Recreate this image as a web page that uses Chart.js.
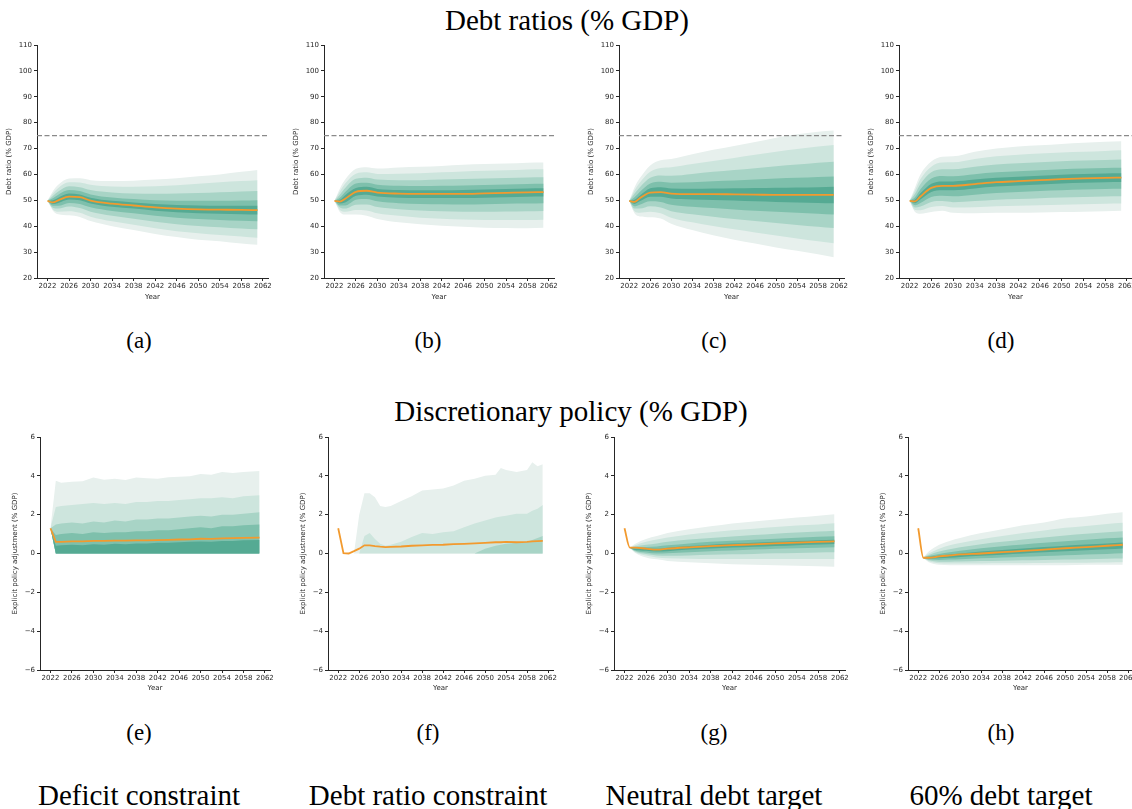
<!DOCTYPE html>
<html>
<head>
<meta charset="utf-8">
<script src="https://cdn.jsdelivr.net/npm/chart.js@4.4.1/dist/chart.umd.min.js"></script>
<style>
  html, body { margin: 0; padding: 0; background: #fff; }
  #page { position: relative; width: 1132px; height: 809px; overflow: hidden;
          font-family: 'Liberation Serif', 'Times New Roman', serif; color: #000; }
  .txt { position: absolute; transform: translate(-50%, -50%); white-space: nowrap; line-height: 1; }
  .head { font-size: 29px; }
  .sub { font-size: 23px; }
  canvas { position: absolute; }
</style>
</head>
<body>
<div id="page">
  <div class="txt head" style="left:567px; top:20px;">Debt ratios (% GDP)</div>
  <div class="txt head" style="left:571px; top:411px;">Discretionary policy (% GDP)</div>

  <div class="txt sub" style="left:139px; top:340px;">(a)</div>
  <div class="txt sub" style="left:428px; top:340px;">(b)</div>
  <div class="txt sub" style="left:714px; top:340px;">(c)</div>
  <div class="txt sub" style="left:1001px; top:340px;">(d)</div>
  <div class="txt sub" style="left:139px; top:732px;">(e)</div>
  <div class="txt sub" style="left:428px; top:732px;">(f)</div>
  <div class="txt sub" style="left:714px; top:732px;">(g)</div>
  <div class="txt sub" style="left:1001px; top:732px;">(h)</div>

  <div class="txt head" style="left:139px; top:795px;">Deficit constraint</div>
  <div class="txt head" style="left:428px; top:795px;">Debt ratio constraint</div>
  <div class="txt head" style="left:714px; top:795px;">Neutral debt target</div>
  <div class="txt head" style="left:1001px; top:795px;">60% debt target</div>
</div>

<script>
// ---- axis ticks ----
const yearTicks = [2022, 2026, 2030, 2034, 2038, 2042, 2046, 2050, 2054, 2058, 2062];
const debtTicks = [20, 30, 40, 50, 60, 70, 80, 90, 100, 110];
const policyTicks = [-6, -4, -2, 0, 2, 4, 6];
const debtLimit = 75;

// ---- debt ratio fans (top row) ----
const debtYears = [2022, 2023, 2024, 2026, 2028, 2030, 2034, 2038, 2042, 2046, 2050, 2054, 2058, 2061];

// (a) deficit constraint
const aMedian = [49.8, 49.2, 50.0, 51.4, 51.2, 49.9, 48.7, 48.0, 47.3, 46.8, 46.5, 46.4, 46.3, 46.2];
const aUpper = [
  [49.8, 53.5, 56.0, 58.4, 58.5, 57.8, 57.5, 57.6, 58.0, 58.5, 59.3, 60.0, 61.0, 61.7],
  [49.8, 52.6, 54.8, 57.0, 56.9, 56.0, 55.3, 55.2, 55.4, 55.8, 56.4, 57.0, 57.5, 57.8],
  [49.8, 51.7, 53.4, 55.4, 55.1, 54.0, 53.0, 52.6, 52.5, 52.6, 52.8, 53.1, 53.4, 53.6],
  [49.8, 50.8, 52.2, 54.0, 53.6, 52.3, 51.1, 50.5, 50.0, 49.8, 49.8, 49.8, 49.9, 50.0],
  [49.8, 50.0, 51.0, 52.6, 52.3, 51.0, 49.8, 49.2, 48.6, 48.2, 48.0, 47.9, 47.9, 47.9]
];
const aLower = [
  [49.8, 46.0, 44.6, 44.2, 43.6, 42.0, 40.0, 38.5, 37.0, 35.8, 34.8, 34.2, 33.3, 32.8],
  [49.8, 46.5, 45.6, 45.8, 45.2, 43.7, 41.9, 40.6, 39.2, 38.1, 37.3, 36.6, 36.0, 35.5],
  [49.8, 47.1, 46.8, 47.6, 47.0, 45.6, 44.0, 42.9, 41.7, 40.8, 40.1, 39.6, 39.1, 38.8],
  [49.8, 47.9, 47.9, 49.0, 48.6, 47.3, 45.9, 45.0, 44.0, 43.3, 42.8, 42.4, 42.1, 41.9],
  [49.8, 48.6, 49.0, 50.3, 50.0, 48.8, 47.5, 46.8, 46.0, 45.4, 45.0, 44.8, 44.6, 44.5]
];

// (b) debt ratio constraint
const bMedian = [49.8, 49.5, 50.6, 53.3, 53.7, 53.0, 52.6, 52.5, 52.5, 52.5, 52.7, 52.9, 53.1, 53.2];
const bUpper = [
  [49.8, 54.5, 58.0, 62.2, 62.8, 62.3, 62.7, 63.0, 63.3, 63.7, 64.0, 64.2, 64.5, 64.6],
  [49.8, 53.4, 56.5, 60.3, 60.8, 60.2, 60.3, 60.5, 60.8, 61.1, 61.4, 61.6, 61.9, 62.0],
  [49.8, 52.2, 54.8, 58.3, 58.7, 58.0, 57.8, 57.8, 58.0, 58.2, 58.4, 58.6, 58.8, 58.9],
  [49.8, 51.0, 53.2, 56.5, 56.8, 56.0, 55.6, 55.5, 55.6, 55.7, 55.9, 56.1, 56.3, 56.4],
  [49.8, 50.2, 52.0, 54.8, 55.2, 54.4, 54.0, 53.9, 53.9, 54.0, 54.2, 54.4, 54.6, 54.7]
];
const bLower = [
  [49.8, 45.5, 44.5, 44.5, 44.0, 42.8, 41.5, 40.8, 40.2, 39.8, 39.4, 39.3, 39.2, 39.4],
  [49.8, 46.3, 45.6, 46.3, 46.1, 45.0, 44.0, 43.3, 42.9, 42.6, 42.4, 42.4, 42.4, 42.5],
  [49.8, 47.2, 46.8, 48.3, 48.4, 47.4, 46.6, 46.1, 45.8, 45.6, 45.6, 45.7, 45.8, 45.9],
  [49.8, 48.0, 48.0, 50.2, 50.5, 49.6, 48.9, 48.6, 48.5, 48.4, 48.5, 48.7, 48.8, 48.9],
  [49.8, 48.8, 49.2, 51.8, 52.2, 51.5, 51.0, 50.9, 50.9, 50.9, 51.0, 51.2, 51.4, 51.5]
];

// (c) neutral debt target
const cMedian = [49.8, 49.4, 50.8, 53.0, 53.2, 52.6, 52.4, 52.4, 52.3, 52.2, 52.1, 52.1, 52.1, 52.1];
const cUpper = [
  [49.8, 55.0, 58.5, 63.5, 65.5, 66.0, 67.8, 69.5, 71.0, 72.5, 74.2, 75.5, 76.5, 77.0],
  [49.8, 53.8, 56.8, 61.0, 62.5, 62.8, 64.0, 65.2, 66.4, 67.6, 68.8, 69.8, 70.8, 71.4],
  [49.8, 52.5, 55.0, 58.7, 59.6, 59.5, 60.2, 61.0, 61.7, 62.4, 63.2, 63.8, 64.5, 64.9],
  [49.8, 51.2, 53.2, 56.5, 57.2, 56.8, 57.0, 57.4, 57.7, 58.0, 58.4, 58.7, 59.0, 59.2],
  [49.8, 50.2, 51.8, 54.7, 55.1, 54.6, 54.5, 54.6, 54.7, 54.8, 54.9, 55.0, 55.1, 55.2]
];
const cLower = [
  [49.8, 45.0, 43.8, 43.5, 43.0, 41.0, 38.5, 36.5, 34.8, 33.3, 31.8, 30.5, 29.2, 28.0],
  [49.8, 45.8, 45.2, 45.6, 45.0, 43.3, 41.5, 40.1, 38.8, 37.6, 36.4, 35.3, 34.2, 33.4],
  [49.8, 46.8, 46.8, 47.7, 47.2, 45.8, 44.6, 43.7, 42.8, 42.0, 41.2, 40.5, 39.8, 39.3],
  [49.8, 47.7, 48.3, 49.6, 49.4, 48.3, 47.5, 47.0, 46.5, 46.0, 45.6, 45.2, 44.8, 44.5],
  [49.8, 48.6, 49.6, 51.4, 51.4, 50.7, 50.3, 50.1, 49.9, 49.6, 49.4, 49.2, 49.0, 48.9]
];

// (d) 60% debt target
const dMedian = [49.8, 49.6, 51.5, 54.8, 55.6, 55.6, 56.3, 57.0, 57.4, 57.8, 58.2, 58.5, 58.7, 58.8];
const dUpper = [
  [49.8, 55.0, 60.0, 65.0, 66.8, 67.0, 68.8, 70.0, 70.8, 71.3, 71.8, 72.2, 72.6, 72.8],
  [49.8, 53.8, 58.2, 63.0, 64.6, 64.7, 66.0, 67.0, 67.6, 68.1, 68.5, 68.8, 69.1, 69.3],
  [49.8, 52.5, 56.3, 60.8, 62.0, 62.0, 63.0, 63.8, 64.3, 64.7, 65.1, 65.4, 65.6, 65.8],
  [49.8, 51.2, 54.3, 58.4, 59.4, 59.3, 60.1, 60.8, 61.2, 61.6, 62.0, 62.3, 62.5, 62.6],
  [49.8, 50.3, 52.7, 56.4, 57.3, 57.3, 58.0, 58.7, 59.1, 59.5, 59.9, 60.2, 60.4, 60.5]
];
const dLower = [
  [49.8, 45.5, 44.8, 45.5, 46.0, 45.2, 45.0, 45.2, 45.2, 45.3, 45.5, 45.6, 45.8, 46.0],
  [49.8, 46.3, 46.2, 47.4, 47.8, 47.2, 47.3, 47.7, 47.9, 48.1, 48.3, 48.5, 48.7, 48.8],
  [49.8, 47.2, 47.6, 49.4, 49.7, 49.3, 49.7, 50.2, 50.5, 50.8, 51.1, 51.3, 51.5, 51.6],
  [49.8, 48.1, 49.0, 51.3, 51.8, 51.6, 52.2, 52.8, 53.2, 53.6, 53.9, 54.2, 54.4, 54.5],
  [49.8, 48.9, 50.3, 53.2, 53.9, 53.9, 54.6, 55.3, 55.7, 56.1, 56.5, 56.8, 57.0, 57.1]
];

// ---- discretionary policy fans (bottom row) ----
// (e) deficit constraint
const eYears = [2022, 2023, 2024, 2026, 2028, 2030, 2032, 2034, 2036, 2038, 2040, 2042, 2044, 2046, 2048, 2050, 2052, 2054, 2056, 2058, 2061];
const eMedian = [1.3, 0.6, 0.6, 0.62, 0.62, 0.65, 0.65, 0.66, 0.66, 0.68, 0.68, 0.69, 0.7, 0.72, 0.73, 0.76, 0.75, 0.78, 0.79, 0.8, 0.82];
const eUpper = [
  [1.3, 3.75, 3.65, 3.7, 3.72, 3.92, 3.8, 3.85, 3.78, 3.92, 3.88, 3.85, 3.93, 3.95, 3.98, 4.1, 4.05, 4.2, 4.15, 4.2, 4.25],
  [1.3, 2.4, 2.45, 2.5, 2.55, 2.6, 2.55, 2.6, 2.55, 2.65, 2.65, 2.7, 2.7, 2.75, 2.8, 2.85, 2.85, 2.9, 2.85, 2.95, 3.0],
  [1.3, 1.5, 1.55, 1.6, 1.55, 1.65, 1.6, 1.7, 1.65, 1.75, 1.75, 1.8, 1.8, 1.85, 1.9, 1.95, 1.9, 2.0, 2.0, 2.05, 2.12],
  [1.3, 0.95, 1.0, 1.05, 1.0, 1.1, 1.05, 1.1, 1.1, 1.15, 1.15, 1.2, 1.2, 1.25, 1.3, 1.35, 1.3, 1.4, 1.4, 1.45, 1.5],
  [1.3, 0.4, 0.42, 0.45, 0.42, 0.48, 0.45, 0.5, 0.48, 0.52, 0.52, 0.55, 0.55, 0.58, 0.6, 0.62, 0.6, 0.65, 0.65, 0.68, 0.7]
];
const eFloor = [1.3, 0, 0, 0, 0, 0, 0, 0, 0, 0, 0, 0, 0, 0, 0, 0, 0, 0, 0, 0, 0];
const eLower = [eFloor, eFloor, eFloor, eFloor, eFloor];

// (f) debt ratio constraint
const fYears = [2022, 2023, 2024, 2025, 2026, 2027, 2028, 2029, 2030, 2031, 2032, 2034, 2036, 2038, 2040, 2042, 2044, 2046, 2048, 2050, 2052, 2053, 2054, 2056, 2058, 2059, 2060, 2061];
const fMedian = [1.3, 0.02, 0.0, 0.12, 0.25, 0.42, 0.42, 0.38, 0.35, 0.33, 0.34, 0.36, 0.4, 0.42, 0.44, 0.45, 0.48, 0.5, 0.52, 0.55, 0.58, 0.58, 0.6, 0.58, 0.6, 0.62, 0.64, 0.65];
const fUpper = [
  [0, 0, 0, 0, 2.0, 3.1, 3.1, 2.9, 2.45, 2.4, 2.45, 2.7, 2.95, 3.25, 3.3, 3.35, 3.5, 3.75, 3.85, 4.0, 4.05, 4.4, 4.3, 4.2, 4.3, 4.7, 4.5, 4.6],
  [0, 0, 0, 0, 0, 0.9, 1.05, 0.75, 0.5, 0.4, 0.45, 0.6, 0.85, 1.05, 1.0, 1.1, 1.15, 1.35, 1.55, 1.7, 1.85, 1.9, 1.95, 2.05, 2.05, 2.2, 2.3, 2.5],
  [0, 0, 0, 0, 0, 0, 0, 0, 0, 0, 0, 0, 0, 0, 0, 0, 0, 0, 0, 0.25, 0.4, 0.45, 0.5, 0.55, 0.6, 0.7, 0.8, 0.9]
];
const fFloor = [0, 0, 0, 0, 0, 0, 0, 0, 0, 0, 0, 0, 0, 0, 0, 0, 0, 0, 0, 0, 0, 0, 0, 0, 0, 0, 0, 0];
const fLower = [fFloor, fFloor, fFloor];

// (g) and (h): median starts in 2022, fan from 2023
const targetMedYears = [2022, 2023, 2024, 2026, 2028, 2030, 2034, 2038, 2042, 2046, 2050, 2054, 2058, 2061];
const targetFanYears = [2023, 2024, 2026, 2028, 2030, 2034, 2038, 2042, 2046, 2050, 2054, 2058, 2061];

// (g) neutral debt target
const gMedian = [1.3, 0.3, 0.3, 0.25, 0.2, 0.25, 0.32, 0.38, 0.43, 0.47, 0.52, 0.56, 0.6, 0.62];
const gUpper = [
  [0.3, 0.5, 0.75, 0.9, 1.05, 1.25, 1.4, 1.55, 1.65, 1.75, 1.85, 1.95, 2.02],
  [0.3, 0.42, 0.6, 0.72, 0.82, 0.98, 1.1, 1.2, 1.28, 1.36, 1.44, 1.5, 1.56],
  [0.3, 0.36, 0.45, 0.52, 0.6, 0.72, 0.8, 0.88, 0.95, 1.02, 1.08, 1.13, 1.17],
  [0.3, 0.3, 0.33, 0.36, 0.42, 0.52, 0.6, 0.66, 0.71, 0.76, 0.81, 0.86, 0.89],
  [0.3, 0.25, 0.25, 0.24, 0.3, 0.38, 0.45, 0.51, 0.55, 0.6, 0.64, 0.68, 0.71]
];
const gLower = [
  [0.3, 0.03, -0.2, -0.3, -0.38, -0.45, -0.5, -0.55, -0.58, -0.6, -0.63, -0.66, -0.68],
  [0.3, 0.07, -0.1, -0.2, -0.25, -0.27, -0.28, -0.28, -0.28, -0.28, -0.28, -0.28, -0.28],
  [0.3, 0.1, -0.03, -0.1, -0.12, -0.1, -0.07, -0.04, -0.02, 0.01, 0.03, 0.05, 0.06],
  [0.3, 0.14, 0.05, 0.0, 0.01, 0.06, 0.12, 0.16, 0.2, 0.24, 0.27, 0.3, 0.32],
  [0.3, 0.18, 0.14, 0.1, 0.12, 0.2, 0.26, 0.31, 0.35, 0.39, 0.43, 0.46, 0.49]
];

// (h) 60% debt target
const hMedian = [1.3, -0.22, -0.22, -0.15, -0.1, -0.05, 0.0, 0.07, 0.13, 0.2, 0.27, 0.33, 0.4, 0.45];
const hUpper = [
  [-0.2, 0.1, 0.45, 0.65, 0.8, 1.05, 1.25, 1.45, 1.6, 1.8, 1.9, 2.05, 2.12],
  [-0.2, 0.0, 0.25, 0.42, 0.54, 0.74, 0.9, 1.06, 1.18, 1.32, 1.42, 1.52, 1.58],
  [-0.2, -0.08, 0.1, 0.22, 0.32, 0.48, 0.6, 0.72, 0.82, 0.93, 1.02, 1.1, 1.15],
  [-0.2, -0.13, -0.02, 0.06, 0.14, 0.27, 0.37, 0.46, 0.55, 0.63, 0.71, 0.78, 0.83],
  [-0.2, -0.18, -0.1, -0.05, 0.0, 0.1, 0.18, 0.26, 0.33, 0.4, 0.46, 0.52, 0.57]
];
const hLower = [
  [-0.25, -0.45, -0.58, -0.6, -0.6, -0.6, -0.6, -0.6, -0.6, -0.6, -0.58, -0.58, -0.58],
  [-0.25, -0.4, -0.5, -0.52, -0.52, -0.51, -0.5, -0.5, -0.49, -0.48, -0.47, -0.46, -0.45],
  [-0.25, -0.35, -0.42, -0.42, -0.41, -0.39, -0.37, -0.35, -0.33, -0.31, -0.29, -0.27, -0.26],
  [-0.24, -0.31, -0.33, -0.31, -0.29, -0.25, -0.21, -0.17, -0.13, -0.09, -0.05, -0.02, 0.01],
  [-0.24, -0.27, -0.25, -0.22, -0.18, -0.12, -0.06, 0.0, 0.06, 0.12, 0.17, 0.22, 0.26]
];

// ---- styling ----
const bandColors = ['#e7f0ed', '#cde5dd', '#a8d4c6', '#7ec0ac', '#55aa93'];
const medianColor = '#f29a2e';
const axisColor = '#262626';
const tickFont = { family: 'DejaVu Sans', size: 7 };
const xMin = 2020.05, xMax = 2062.95;
const padTop = 8, padRight = 8;

function pts(xs, ys) {
  return xs.map(function(x, i) { return { x: x, y: ys[i] }; });
}

function makePanel(box, p) {
  const canvas = document.createElement('canvas');
  const w = box.right - box.left + box.yW + padRight;
  const h = box.bottom - box.top + padTop + box.xH;
  canvas.width = w;
  canvas.height = h;
  canvas.style.left = (box.left - box.yW) + 'px';
  canvas.style.top = (box.top - padTop) + 'px';
  canvas.style.width = w + 'px';
  canvas.style.height = h + 'px';
  document.getElementById('page').appendChild(canvas);

  const smooth = p.smooth ? 'monotone' : 'default';
  const datasets = [];
  datasets.push({
    data: pts(p.medYears, p.median), borderColor: medianColor, borderWidth: 1.8,
    pointRadius: 0, fill: false, cubicInterpolationMode: smooth
  });
  if (p.limit !== undefined) {
    datasets.push({
      data: [{ x: xMin, y: p.limit }, { x: xMax, y: p.limit }], borderColor: '#8a8a8a',
      borderWidth: 1.2, borderDash: [5, 2.5], pointRadius: 0, fill: false
    });
  }
  // inner bands first so the outer ones end up underneath
  for (let k = p.upper.length - 1; k >= 0; k--) {
    datasets.push({
      data: pts(p.fanYears, p.upper[k]), borderWidth: 0, pointRadius: 0,
      backgroundColor: bandColors[k], fill: '+1', cubicInterpolationMode: smooth
    });
    datasets.push({
      data: pts(p.fanYears, p.lower[k]), borderWidth: 0, pointRadius: 0,
      fill: false, cubicInterpolationMode: smooth
    });
  }

  return new Chart(canvas.getContext('2d'), {
    type: 'line',
    data: { datasets: datasets },
    options: {
      responsive: false,
      animation: false,
      devicePixelRatio: 1,
      layout: { padding: { top: padTop, right: padRight, left: 0, bottom: 0 } },
      plugins: { legend: { display: false }, tooltip: { enabled: false } },
      scales: {
        x: {
          type: 'linear', min: xMin, max: xMax,
          afterBuildTicks: function(s) { s.ticks = yearTicks.map(function(v) { return { value: v }; }); },
          afterFit: function(s) { s.height = box.xH; s.paddingLeft = 0; s.paddingRight = 0; },
          grid: { display: true, drawOnChartArea: false, drawTicks: true, tickLength: 3, color: axisColor },
          border: { display: true, color: axisColor, width: 1 },
          ticks: { font: tickFont, color: axisColor, padding: 1, maxRotation: 0, autoSkip: false,
                   callback: function(v) { return String(v); } },
          title: { display: true, text: 'Year', font: tickFont, color: axisColor, padding: 0 }
        },
        y: {
          type: 'linear', min: p.yTicks[0], max: p.yTicks[p.yTicks.length - 1],
          afterBuildTicks: function(s) { s.ticks = p.yTicks.map(function(v) { return { value: v }; }); },
          afterFit: function(s) { s.width = box.yW; s.paddingTop = 0; s.paddingBottom = 0; },
          grid: { display: true, drawOnChartArea: false, drawTicks: true, tickLength: 3, color: axisColor },
          border: { display: true, color: axisColor, width: 1 },
          ticks: { font: tickFont, color: axisColor, padding: 2,
                   callback: function(v) { return String(v).replace('-', '\u2212'); } },
          title: { display: true, text: p.yTitle, font: tickFont, color: axisColor, padding: 0 }
        }
      }
    }
  });
}

// ---- layout: plot-area boxes of the eight panels ----
const topRow = { top: 45, bottom: 278, yW: 32, xH: 23 };
const botRow = { top: 437, bottom: 670, yW: 29, xH: 22 };
const topEdges = [[37, 268], [324, 554], [619, 844], [899, 1132]];
const botEdges = [[40, 270], [328, 553], [614, 845], [908, 1133]];

function box(row, edges) {
  return { left: edges[0], right: edges[1], top: row.top, bottom: row.bottom, yW: row.yW, xH: row.xH };
}

const debtPanels = [
  { median: aMedian, upper: aUpper, lower: aLower },
  { median: bMedian, upper: bUpper, lower: bLower },
  { median: cMedian, upper: cUpper, lower: cLower },
  { median: dMedian, upper: dUpper, lower: dLower }
];
debtPanels.forEach(function(d, i) {
  makePanel(box(topRow, topEdges[i]), {
    medYears: debtYears, fanYears: debtYears, median: d.median, upper: d.upper, lower: d.lower,
    yTicks: debtTicks, yTitle: 'Debt ratio (% GDP)', limit: debtLimit, smooth: true
  });
});

const policyPanels = [
  { medYears: eYears, fanYears: eYears, median: eMedian, upper: eUpper, lower: eLower, smooth: false },
  { medYears: fYears, fanYears: fYears, median: fMedian, upper: fUpper, lower: fLower, smooth: false },
  { medYears: targetMedYears, fanYears: targetFanYears, median: gMedian, upper: gUpper, lower: gLower, smooth: true },
  { medYears: targetMedYears, fanYears: targetFanYears, median: hMedian, upper: hUpper, lower: hLower, smooth: true }
];
policyPanels.forEach(function(d, i) {
  d.yTicks = policyTicks;
  d.yTitle = 'Explicit policy adjustment (% GDP)';
  makePanel(box(botRow, botEdges[i]), d);
});
</script>
</body>
</html>
